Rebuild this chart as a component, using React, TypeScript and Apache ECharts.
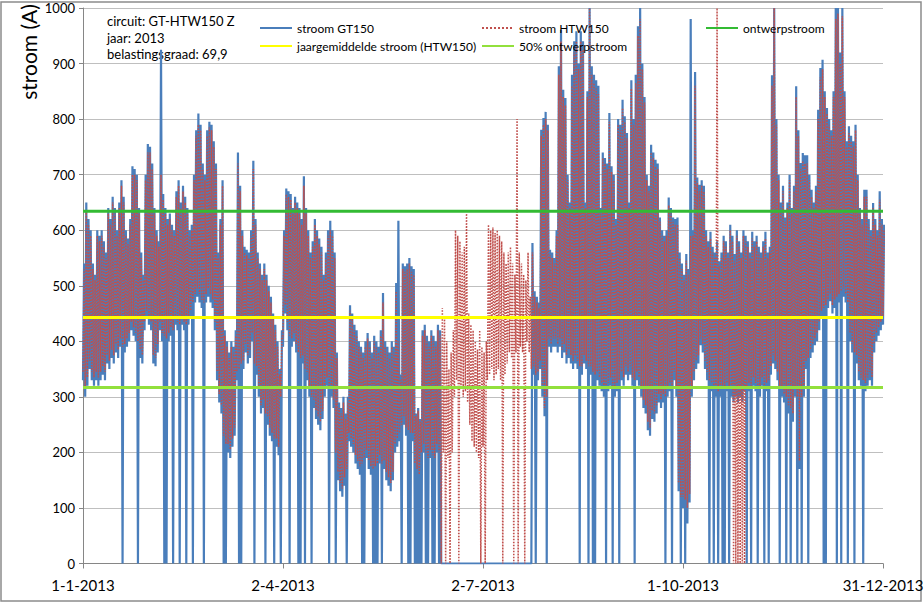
import React, { useEffect, useRef } from "react";
import * as echarts from "echarts";

// x axis: day of year 2013 (0 = 1 Jan, 364 = 31 Dec)
const xTickDays = [0, 91, 182, 273, 364];
const xTickLabels = ["1-1-2013", "2-4-2013", "2-7-2013", "1-10-2013", "31-12-2013"];

const ontwerpstroom = 634;
const jaargemiddelde = 443;
const halfOntwerp = 317;

const infoLines = ["circuit: GT-HTW150 Z", "jaar: 2013", "belastingsgraad: 69,9"];

// daily maxima / minima of stroom GT150 (A)
const gtHigh = [
  540, 650, 620, 600, 540, 520, 600, 590, 600, 580,
  560, 640, 620, 660, 640, 600, 650, 690, 660, 600,
  585, 620, 715, 710, 700, 640, 560, 520, 700, 755,
  750, 720, 640, 600, 580, 925, 665, 640, 620, 630,
  610, 600, 670, 690, 650, 680, 660, 640, 600, 610,
  700, 780, 810, 790, 720, 700, 780, 795, 790, 760,
  720, 560, 620, 690, 420, 400, 380, 400, 390, 420,
  740, 680, 600, 570, 565, 560, 600, 725, 620, 560,
  540, 520, 540, 520, 500, 480, 450, 430, 400, 350,
  420, 600, 675, 670, 665, 640, 660, 650, 640, 620,
  697, 640, 600, 560, 580, 620, 600, 585, 570, 520,
  560, 600, 617, 600, 560, 380, 290, 280, 300, 270,
  300, 465, 450, 430, 420, 400, 390, 380, 400, 415,
  400, 380, 410, 400, 390, 420, 487, 400, 390, 380,
  400, 390, 505, 617, 340, 540, 535, 540, 550, 535,
  530, 270, 280, 260, 420, 430, 410, 400, 420, 410,
  400, 430, 420, 0, 0, 0, 0, 0, 0, 0,
  0, 0, 0, 0, 0, 0, 0, 0, 0, 0,
  0, 0, 0, 0, 0, 0, 0, 0, 0, 0,
  0, 0, 0, 0, 0, 0, 0, 0, 0, 0,
  0, 0, 0, 0, 577, 490, 480, 470, 781, 802,
  813, 790, 565, 560, 550, 600, 895, 961, 853, 838,
  700, 650, 880, 940, 958, 900, 958, 940, 650, 850,
  1000, 895, 880, 870, 860, 640, 740, 730, 720, 811,
  715, 700, 620, 800, 790, 835, 805, 775, 650, 870,
  800, 880, 967, 1000, 900, 840, 700, 680, 754, 740,
  727, 720, 623, 600, 590, 600, 659, 640, 623, 620,
  623, 560, 540, 520, 557, 530, 980, 600, 885, 695,
  682, 690, 680, 600, 580, 597, 570, 560, 580, 544,
  560, 590, 580, 560, 610, 590, 557, 600, 580, 560,
  600, 590, 580, 560, 597, 580, 590, 570, 560, 580,
  597, 560, 570, 879, 1000, 800, 700, 650, 680, 623,
  650, 700, 640, 680, 859, 780, 721, 739, 735, 735,
  700, 673, 650, 680, 817, 892, 907, 850, 820, 800,
  780, 850, 1000, 1000, 920, 1000, 850, 760, 787, 770,
  760, 790, 700, 640, 620, 673, 673, 620, 600, 649,
  620, 600, 670, 620, 610,
];

const gtLow = [
  330, 300, 320, 350, 330, 320, 330, 320, 330, 340,
  330, 360, 350, 370, 360, 380, 370, 390, 0, 380,
  390, 400, 420, 410, 400, 0, 370, 360, 420, 440,
  430, 420, 360, 355, 380, 420, 400, 0, 0, 400,
  410, 0, 430, 420, 0, 430, 420, 0, 430, 440,
  0, 470, 480, 470, 460, 0, 470, 480, 470, 460,
  420, 330, 290, 270, 0, 0, 200, 190, 210, 230,
  330, 0, 0, 350, 380, 360, 370, 400, 0, 340,
  300, 270, 280, 0, 250, 230, 220, 0, 210, 195,
  0, 390, 450, 420, 0, 390, 400, 380, 0, 0,
  360, 0, 330, 300, 0, 280, 260, 250, 240, 260,
  300, 320, 0, 300, 280, 0, 150, 130, 120, 140,
  0, 220, 210, 200, 180, 170, 160, 0, 0, 190,
  170, 160, 0, 0, 0, 180, 0, 170, 150, 140,
  130, 150, 200, 210, 220, 0, 250, 230, 0, 0,
  220, 0, 0, 0, 0, 200, 0, 0, 190, 0,
  0, 200, 0, 0, 0, 0, 0, 0, 0, 0,
  0, 0, 0, 0, 0, 0, 0, 0, 0, 0,
  0, 0, 0, 0, 0, 0, 0, 0, 0, 0,
  0, 0, 0, 0, 0, 0, 0, 0, 0, 0,
  0, 0, 0, 0, 0, 340, 0, 330, 350, 300,
  265, 0, 390, 380, 390, 390, 380, 390, 370, 380,
  360, 370, 360, 350, 360, 350, 0, 340, 360, 350,
  0, 340, 0, 0, 330, 320, 310, 300, 0, 310,
  320, 0, 300, 310, 0, 330, 320, 340, 330, 340,
  320, 0, 330, 320, 300, 280, 270, 240, 230, 260,
  255, 270, 290, 280, 290, 0, 300, 310, 0, 330,
  300, 130, 0, 100, 0, 72, 110, 300, 330, 350,
  360, 393, 380, 350, 330, 0, 310, 0, 300, 0,
  300, 0, 0, 310, 0, 300, 290, 300, 290, 300,
  290, 310, 0, 310, 0, 320, 310, 0, 300, 320,
  0, 310, 0, 340, 360, 350, 330, 0, 300, 290,
  0, 270, 0, 255, 300, 0, 170, 0, 300, 350,
  0, 370, 380, 393, 400, 420, 440, 0, 0, 460,
  472, 450, 460, 0, 470, 0, 480, 470, 0, 400,
  380, 0, 360, 330, 320, 0, 310, 320, 330, 320,
  380, 400, 410, 420, 430,
];

// daily maxima / minima of stroom HTW150 (A)
const htwHigh = [
  530, 635, 610, 590, 530, 510, 590, 580, 590, 570,
  550, 630, 610, 650, 630, 590, 640, 680, 650, 590,
  575, 610, 700, 700, 690, 630, 550, 510, 690, 740,
  740, 710, 630, 590, 570, 700, 655, 630, 610, 620,
  600, 590, 660, 680, 640, 670, 650, 630, 590, 600,
  690, 770, 790, 780, 710, 690, 770, 785, 780, 750,
  710, 550, 610, 680, 410, 390, 370, 390, 380, 410,
  720, 670, 590, 560, 555, 550, 590, 710, 610, 550,
  530, 510, 530, 510, 490, 470, 440, 420, 390, 340,
  410, 590, 665, 660, 655, 630, 650, 640, 630, 610,
  680, 630, 590, 550, 570, 610, 590, 575, 560, 510,
  550, 590, 600, 590, 550, 370, 280, 270, 290, 260,
  290, 455, 440, 420, 410, 390, 380, 370, 390, 405,
  390, 370, 400, 390, 380, 410, 470, 390, 380, 370,
  390, 380, 490, 400, 330, 530, 525, 530, 540, 525,
  520, 265, 275, 255, 410, 420, 400, 390, 410, 400,
  390, 420, 410, 460, 440, 400, 350, 380, 420, 600,
  590, 580, 560, 570, 630, 450, 430, 420, 400, 385,
  420, 390, 380, 400, 610, 600, 605, 595, 600, 590,
  580, 560, 540, 560, 570, 540, 520, 800, 560, 540,
  520, 510, 560, 480, 560, 480, 470, 460, 770, 790,
  800, 780, 555, 550, 540, 590, 880, 940, 840, 825,
  690, 640, 860, 920, 940, 890, 940, 925, 640, 840,
  1000, 880, 865, 855, 845, 630, 730, 720, 710, 795,
  705, 690, 610, 790, 780, 820, 795, 765, 640, 855,
  790, 865, 950, 980, 890, 830, 690, 670, 740, 730,
  715, 710, 615, 590, 580, 590, 645, 630, 615, 610,
  610, 550, 530, 510, 545, 520, 590, 590, 860, 685,
  670, 680, 670, 590, 570, 585, 560, 550, 1000, 535,
  550, 580, 570, 550, 600, 580, 545, 590, 570, 550,
  590, 580, 570, 550, 585, 570, 580, 560, 550, 570,
  585, 550, 560, 860, 1000, 790, 690, 640, 670, 615,
  640, 690, 630, 670, 840, 770, 710, 725, 720, 720,
  690, 660, 640, 670, 800, 875, 890, 840, 810, 790,
  770, 840, 980, 990, 900, 985, 840, 750, 775, 760,
  750, 780, 690, 630, 610, 660, 660, 610, 590, 640,
  610, 590, 655, 610, 600,
];

const htwLow = [
  345, 315, 335, 365, 345, 335, 345, 335, 345, 355,
  345, 375, 365, 385, 375, 395, 385, 405, 390, 395,
  405, 415, 435, 425, 415, 400, 385, 375, 435, 455,
  445, 435, 375, 370, 395, 435, 415, 410, 405, 415,
  425, 420, 445, 435, 430, 445, 435, 430, 445, 455,
  470, 485, 495, 485, 475, 470, 485, 495, 485, 475,
  435, 345, 305, 285, 230, 215, 215, 205, 225, 245,
  345, 350, 360, 365, 395, 375, 385, 415, 360, 355,
  315, 285, 295, 270, 265, 245, 235, 225, 225, 210,
  300, 405, 465, 435, 410, 405, 415, 395, 380, 370,
  375, 350, 345, 315, 300, 295, 275, 265, 255, 275,
  315, 335, 320, 315, 295, 200, 165, 145, 135, 155,
  170, 235, 225, 215, 195, 185, 175, 180, 190, 205,
  185, 175, 170, 175, 180, 195, 180, 185, 165, 155,
  145, 165, 215, 225, 235, 250, 265, 245, 240, 235,
  235, 180, 170, 160, 200, 215, 200, 190, 205, 195,
  190, 215, 200, 0, 200, 0, 190, 0, 200, 300,
  330, 0, 320, 300, 310, 290, 250, 220, 210, 200,
  190, 0, 210, 0, 330, 340, 350, 330, 340, 350,
  330, 0, 340, 360, 380, 370, 0, 380, 0, 390,
  380, 0, 400, 380, 350, 355, 340, 345, 365, 315,
  280, 300, 405, 395, 405, 405, 395, 405, 385, 395,
  375, 385, 375, 365, 375, 365, 355, 355, 375, 365,
  355, 355, 345, 340, 345, 335, 325, 315, 320, 325,
  335, 320, 315, 325, 330, 345, 335, 355, 345, 355,
  335, 330, 345, 335, 315, 295, 285, 255, 245, 275,
  270, 285, 305, 295, 305, 300, 315, 325, 320, 345,
  315, 145, 120, 120, 115, 100, 125, 315, 345, 365,
  375, 405, 395, 365, 345, 330, 325, 320, 315, 310,
  315, 320, 315, 325, 320, 320, 0, 0, 0, 0,
  0, 0, 315, 325, 320, 335, 325, 320, 315, 335,
  320, 325, 330, 355, 375, 365, 345, 320, 315, 305,
  300, 285, 280, 270, 315, 300, 185, 300, 315, 365,
  370, 385, 395, 405, 415, 435, 455, 460, 465, 475,
  485, 465, 475, 480, 485, 490, 495, 485, 470, 415,
  395, 380, 375, 345, 335, 330, 325, 335, 345, 335,
  395, 415, 425, 435, 445,
];

const FONT = "Lato, 'Open Sans', sans-serif";

function dailyPoints(high: number[], low: number[]): number[][] {
  const pts: number[][] = [];
  for (let d = 0; d < high.length; d++) {
    pts.push([d, low[d]]);
    pts.push([d + 0.5, high[d]]);
  }
  return pts;
}

function flatLine(v: number): number[][] {
  return [
    [xTickDays[0], v],
    [xTickDays[xTickDays.length - 1], v],
  ];
}

export default function App() {
  const ref = useRef<HTMLDivElement>(null);

  useEffect(() => {
    if (!ref.current) return;
    const chart = echarts.init(ref.current, undefined, { renderer: "svg" });

    const legendBase = {
      itemWidth: 32,
      itemHeight: 14,
      padding: 0,
      selectedMode: false,
      itemStyle: { opacity: 0 },
      textStyle: { fontSize: 12, color: "#000", fontFamily: FONT },
    };

    chart.setOption({
      animation: false,
      backgroundColor: "#ffffff",
      textStyle: { fontFamily: FONT },
      grid: {
        left: 83,
        right: 41,
        top: 8,
        bottom: 40.5,
        containLabel: false,
        outerBoundsMode: "none",
      },
      legend: [
        { ...legendBase, data: ["stroom GT150"], left: 259, top: 22 },
        { ...legendBase, data: ["stroom HTW150"], left: 481, top: 22 },
        { ...legendBase, data: ["ontwerpstroom"], left: 705, top: 22 },
        { ...legendBase, data: ["jaargemiddelde stroom (HTW150)"], left: 259, top: 40 },
        { ...legendBase, data: ["50% ontwerpstroom"], left: 481, top: 40 },
      ],
      xAxis: {
        type: "value",
        min: xTickDays[0],
        max: xTickDays[xTickDays.length - 1],
        interval: 91,
        axisLine: { show: true, onZero: true, lineStyle: { color: "#868686", width: 1 } },
        axisTick: { show: true, length: 5, lineStyle: { color: "#868686" } },
        splitLine: { show: false },
        axisLabel: {
          show: true,
          margin: 14,
          fontSize: 15,
          color: "#000",
          fontFamily: FONT,
          showMinLabel: true,
          showMaxLabel: true,
          hideOverlap: false,
          formatter: (v: number) => {
            const i = xTickDays.indexOf(Math.round(v));
            return i >= 0 ? xTickLabels[i] : "";
          },
        },
      },
      yAxis: {
        type: "value",
        min: 0,
        max: 1000,
        interval: 100,
        axisLine: { show: true, lineStyle: { color: "#868686", width: 1 } },
        axisTick: { show: true, length: 4, lineStyle: { color: "#868686" } },
        splitLine: { show: true, lineStyle: { color: "#bfbfbf", width: 1 } },
        axisLabel: {
          margin: 8,
          fontSize: 13,
          color: "#000",
          fontFamily: FONT,
          formatter: (v: number) => String(v),
        },
      },
      series: [
        {
          name: "stroom GT150",
          type: "line",
          data: dailyPoints(gtHigh, gtLow),
          symbol: "none",
          silent: true,
          z: 2,
          itemStyle: { color: "#4a7ebb" },
          lineStyle: { color: "#4a7ebb", width: 2.2 },
        },
        {
          name: "stroom HTW150",
          type: "line",
          data: dailyPoints(htwHigh, htwLow),
          symbol: "none",
          silent: true,
          z: 3,
          itemStyle: { color: "#c0504d" },
          lineStyle: { color: "#c0504d", width: 1.5, type: "dotted" },
        },
        {
          name: "ontwerpstroom",
          type: "line",
          data: flatLine(ontwerpstroom),
          symbol: "none",
          silent: true,
          z: 4,
          itemStyle: { color: "#33bb33" },
          lineStyle: { color: "#33bb33", width: 3 },
        },
        {
          name: "jaargemiddelde stroom (HTW150)",
          type: "line",
          data: flatLine(jaargemiddelde),
          symbol: "none",
          silent: true,
          z: 4,
          itemStyle: { color: "#ffff00" },
          lineStyle: { color: "#ffff00", width: 3 },
        },
        {
          name: "50% ontwerpstroom",
          type: "line",
          data: flatLine(halfOntwerp),
          symbol: "none",
          silent: true,
          z: 4,
          itemStyle: { color: "#92e03c" },
          lineStyle: { color: "#92e03c", width: 3 },
        },
      ],
      graphic: [
        {
          type: "rect",
          silent: true,
          shape: { x: 1, y: 2, width: 920, height: 599 },
          style: { fill: "none", stroke: "#8c8c8c", lineWidth: 1.5 },
          z: 0,
        },
        {
          type: "text",
          x: 28,
          y: 52,
          rotation: Math.PI / 2,
          style: {
            text: "stroom (A)",
            fontSize: 21,
            fontFamily: "Lato",
            fill: "#000",
            align: "center",
            verticalAlign: "middle",
          },
        },
        ...infoLines.map((t, i) => ({
          type: "text",
          x: 107,
          y: 21 + i * 16.5,
          style: {
            text: t,
            fontSize: 13,
            fontFamily: "Lato",
            fill: "#000",
            align: "left",
            verticalAlign: "middle",
          },
        })),
      ],
    });

    return () => {
      chart.dispose();
    };
  }, []);

  return (
    <div
      ref={ref}
      style={{ position: "fixed", left: 0, top: 0, width: 924, height: 604, background: "#fff" }}
    />
  );
}
